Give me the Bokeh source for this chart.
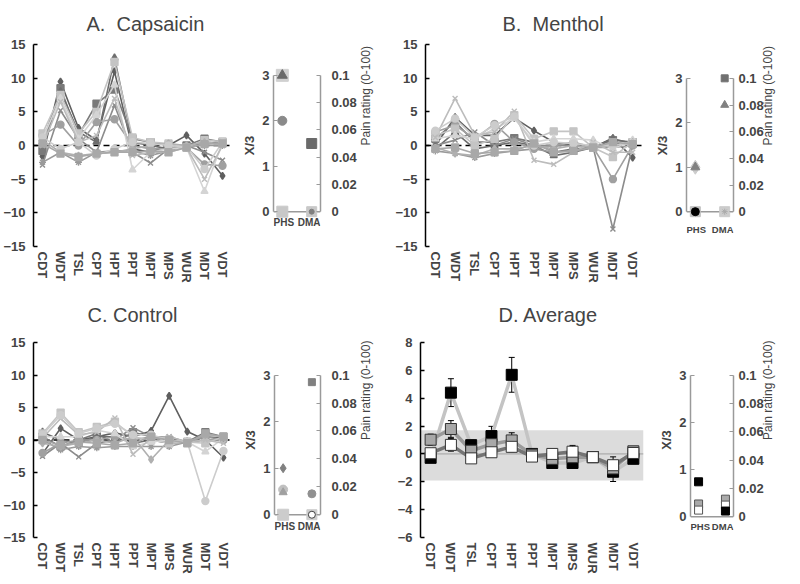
import math
from bokeh.plotting import figure
from bokeh.models import (Range1d, FactorRange, Span, BoxAnnotation, LinearAxis, Label,
                          FixedTicker, Whisker, TeeHead, ColumnDataSource, NumeralTickFormatter)
from bokeh.layouts import row, column
from bokeh.embed import file_html
from bokeh.resources import INLINE

FONT = "Liberation Sans"

# ---------------- data ----------------
tests = ["CDT", "WDT", "TSL", "CPT", "HPT", "PPT", "MPT", "MPS", "WUR", "MDT", "VDT"]
main_ticks = [-15, -10, -5, 0, 5, 10, 15]
avg_ticks = [-6, -4, -2, 0, 2, 4, 6, 8]
x3_ticks = [0, 1, 2, 3]
pain_ticks = [0, 0.02, 0.04, 0.06, 0.08, 0.1]
side_cats = ["PHS", "DMA"]

# individual z-score profiles (12 subjects per condition)
capsaicin = [
    [-1.6, 9.5, 2.6, 0.8, 11.0, -0.5, -1.0, 0.0, 1.5, -1.2, -4.5],
    [-0.8, 8.5, 1.5, 6.2, 8.3, 1.0, 0.5, 0.0, 0.0, 1.0, 0.5],
    [0.5, 8.0, 2.0, 0.5, 13.0, 0.5, 0.0, -0.5, -0.3, 0.5, 0.3],
    [-2.9, 5.2, 1.0, -1.0, 6.0, -1.0, -2.6, -0.5, 0.0, -1.0, -2.2],
    [-2.5, -1.0, -2.5, -1.0, -0.8, -0.8, -1.5, -0.8, 0.0, 0.0, 0.0],
    [1.5, 3.1, 0.0, 3.5, 3.9, 0.0, -0.5, -0.5, -0.3, -2.8, -3.0],
    [1.8, 7.5, 1.8, 5.0, 12.4, 1.2, 0.5, 0.3, -0.3, 0.8, 0.6],
    [1.0, 7.0, 1.0, 4.5, 9.0, -3.6, -1.0, -0.5, -0.3, -6.8, 0.5],
    [0.0, 6.5, 0.5, 1.5, 7.0, -1.5, -1.0, -1.0, -0.3, -5.0, 0.0],
    [0.8, -1.0, -1.5, -1.2, -1.0, -0.5, 0.0, 0.3, 0.0, 0.5, 0.2],
    [1.2, -0.5, 0.5, -1.5, -0.5, 0.5, 0.3, 0.0, -0.2, -3.5, 0.5],
    [0.3, -1.2, -1.7, -1.2, -1.0, -1.0, -0.8, -1.0, -0.3, 0.2, 0.3],
]
menthol = [
    [0.0, 4.2, 1.5, 1.5, 4.1, 2.2, 0.5, 0.0, -0.3, 1.1, -1.8],
    [1.0, 3.5, 0.5, 0.5, 1.1, 0.5, -1.0, -0.5, -0.3, 0.8, 0.5],
    [-0.5, 2.0, -0.5, 0.0, 0.5, 0.0, -1.5, -1.0, -0.3, 1.0, 0.3],
    [0.0, 0.8, 2.0, 0.0, 1.0, 0.0, 0.0, 0.0, -0.3, -12.4, 0.0],
    [-0.8, -1.2, -1.8, -1.2, -0.8, -0.5, -1.0, -0.8, -0.3, -0.3, 0.0],
    [2.0, 3.0, 1.0, 3.2, 0.5, -0.5, 0.0, 0.5, -0.3, -5.0, 0.0],
    [1.5, 2.5, 0.0, 1.0, 4.5, 1.0, 2.1, 2.1, -0.3, -1.7, 0.5],
    [1.0, 1.5, 1.0, 2.5, 4.0, 0.5, 1.0, 1.0, 0.8, -0.5, 0.8],
    [1.2, 7.0, 1.5, 2.0, 5.1, -2.2, -2.8, -1.0, 0.5, -1.0, -1.0],
    [-0.3, -1.2, -1.5, -0.5, -0.5, 0.0, -0.5, 0.0, -0.3, 0.0, 0.5],
    [2.2, 4.0, 1.2, 3.0, 4.3, 0.0, 0.5, 0.3, 0.0, 0.0, 0.3],
    [-0.5, -0.3, -1.2, -1.0, -0.8, 0.3, -1.0, -0.8, -0.3, 0.5, 0.2],
]
control = [
    [-2.1, 1.8, 0.0, 0.5, 1.1, 0.5, 1.4, 6.8, 1.3, 0.0, -2.7],
    [0.5, -1.0, 0.0, 1.0, -0.5, 1.2, 0.5, 0.0, -0.3, 1.2, 0.5],
    [1.2, 0.0, -0.5, 0.5, 0.5, -0.5, 0.0, -0.5, -0.3, 0.5, 0.3],
    [-2.5, -0.5, -2.6, -0.5, 0.0, 1.9, 0.5, 0.5, -0.3, 0.0, 0.0],
    [0.0, -1.5, -1.0, -1.2, -1.0, -1.0, -1.0, -1.0, -0.3, 0.5, 0.0],
    [-2.0, -0.5, 0.0, 0.0, 0.5, 0.0, 0.5, -0.5, -0.3, 0.0, 0.0],
    [1.0, 4.2, 1.2, 2.0, 2.8, 0.5, 0.0, -0.5, -0.3, -0.5, 0.5],
    [0.5, 0.5, 0.5, 1.5, 1.0, -1.0, -0.3, 0.0, -0.3, -1.8, 0.3],
    [0.3, 3.3, 0.8, 1.2, 3.4, -2.2, 0.3, 0.5, -0.3, 0.0, -0.5],
    [-0.5, -1.0, -0.5, 0.0, -0.5, 0.5, -3.0, 0.0, -0.3, 0.8, 0.5],
    [0.8, 3.8, 1.0, 1.8, 2.5, 0.8, 0.8, 0.0, -0.3, -9.4, -1.7],
    [0.0, -0.8, -0.3, -0.5, -0.8, -0.5, 0.5, 0.0, -0.5, 1.0, 0.5],
]

# group averages and errors
avg_capsaicin = [-0.28, 4.4, 0.63, 1.28, 5.68, 0.0, -0.65, -0.65, -0.23, -1.28, -0.35]
avg_menthol = [1.02, 1.79, 0.23, 0.7, 0.97, -0.05, -0.35, -0.23, -0.23, -1.04, 0.19]
avg_control = [0.05, 0.65, -0.32, 0.12, 0.51, -0.19, 0.0, 0.16, -0.23, -0.81, 0.07]
err_capsaicin = [0.3, 1.0, 0.35, 0.7, 1.25, 0.15, 0.2, 0.2, 0.1, 0.7, 0.35]
err_menthol = [0.4, 0.6, 0.3, 0.5, 0.55, 0.15, 0.3, 0.3, 0.1, 0.5, 0.3]
err_control = [0.3, 0.45, 0.3, 0.3, 0.35, 0.15, 0.3, 0.45, 0.1, 0.6, 0.3]
band_low, band_high = -1.9, 1.7

# side panels: PHS (X/3) and DMA (pain rating)
phs_capsaicin = [3, 3, 2, 0]
dma_capsaicin = [0.05, 0.0, 0.0]
phs_menthol = [1, 1, 0, 0]
dma_menthol = [0.1, 0.08, 0.0, 0.0]
phs_control = [1.0, 0.54, 0.48, 0.0]
dma_control = [0.095, 0.015, 0.0, 0.0]
phs_average = [0.74, 0.27, 0.14]
dma_average = [0.0124, 0.0082, 0.004]

# ---------------- styles ----------------
subject_styles = [
    ("diamond", "#5f5f5f"), ("square", "#7a7a7a"), ("triangle", "#6e6e6e"),
    ("x", "#8c8c8c"), ("asterisk", "#9a9a9a"), ("circle", "#a0a0a0"),
    ("square", "#c4c4c4"), ("triangle", "#d4d4d4"), ("x", "#bcbcbc"),
    ("diamond", "#b0b0b0"), ("circle", "#cccccc"), ("square", "#a8a8a8"),
]
# (marker, fill, line, size)
sty_phs_A = [("square", "#d0d0d0", "#d0d0d0", 12), ("triangle", "#6a6a6a", "#6a6a6a", 10),
             ("circle", "#8a8a8a", "#8a8a8a", 9), ("square", "#c8c8c8", "#c8c8c8", 11)]
sty_dma_A = [("square", "#6a6a6a", "#6a6a6a", 10), ("square", "#c8c8c8", "#c8c8c8", 10),
             ("circle", "#808080", "#808080", 5)]
sty_phs_B = [("diamond", "#cccccc", "#cccccc", 14), ("triangle", "#808080", "#808080", 9),
             ("square", "#c0c0c0", "#c0c0c0", 10), ("circle", "#000000", "#000000", 8)]
sty_dma_B = [("square", "#707070", "#707070", 7), ("triangle", "#808080", "#808080", 8),
             ("square", "#cccccc", "#cccccc", 10), ("asterisk", "#aaaaaa", "#aaaaaa", 6)]
sty_phs_C = [("diamond", "#808080", "#808080", 9), ("circle", "#c0c0c0", "#c0c0c0", 9),
             ("triangle", "#a0a0a0", "#a0a0a0", 8), ("square", "#cccccc", "#cccccc", 11)]
sty_dma_C = [("square", "#808080", "#808080", 7), ("circle", "#909090", "#909090", 8),
             ("square", "#cccccc", "#cccccc", 10), ("circle", "#ffffff", "#404040", 7)]
sty_phs_D = [("square", "black", "black", 8), ("square", "#aaaaaa", "#555555", 8),
             ("square", "white", "#555555", 8)]
sty_dma_D = [("square", "#aaaaaa", "#555555", 8), ("square", "white", "#555555", 8),
             ("square", "black", "black", 8)]


def make_main(title, width, height, bl, br, bt, bb, ylo, yhi, yticks, title_off, title_so):
    p = figure(width=width, height=height, x_range=FactorRange(factors=tests),
               y_range=Range1d(ylo, yhi), output_backend="svg", toolbar_location=None,
               min_border_left=bl, min_border_right=br, min_border_top=bt,
               min_border_bottom=bb, title=title)
    p.title.align = "left"
    p.title.offset = title_off
    p.title.text_font = FONT
    p.title.text_font_size = "20px"
    p.title.text_font_style = "normal"
    p.title.standoff = title_so
    p.outline_line_color = None
    p.xgrid.visible = False
    p.ygrid.visible = False
    xa = p.xaxis[0]
    xa.axis_line_color = None
    xa.major_tick_line_color = None
    xa.minor_tick_line_color = None
    xa.major_tick_out = 0
    xa.minor_tick_out = 0
    xa.major_label_orientation = "vertical"
    xa.major_label_text_font = FONT
    xa.major_label_text_font_style = "bold"
    xa.major_label_text_font_size = "13px"
    xa.major_label_standoff = 5
    ya = p.yaxis[0]
    ya.ticker = FixedTicker(ticks=yticks)
    ya.axis_line_width = 1.5
    ya.axis_line_color = "black"
    ya.major_tick_in = 4
    ya.major_tick_out = 0
    ya.minor_tick_out = 0
    ya.major_tick_line_width = 1.5
    ya.minor_tick_line_color = None
    ya.major_label_text_font = FONT
    ya.major_label_text_font_style = "bold"
    ya.major_label_text_font_size = "13px"
    ya.major_label_standoff = 8
    return p


def add_subjects(p, rows):
    p.add_layout(Span(location=0, dimension="width", line_color="black",
                      line_width=1.5, line_dash="6 4", level="underlay"))
    for vals, (mk, col) in zip(rows, subject_styles):
        src = ColumnDataSource(dict(x=tests, y=vals))
        p.line("x", "y", source=src, line_color=col, line_width=1.6)
        p.scatter("x", "y", source=src, marker=mk, size=7, fill_color=col,
                  line_color=col, line_width=1.4)


def make_side(width, height, bl, br, bt, bb, px_top3, px_zero, lab_px, lab_size,
              r_so, r_lab_so, phs, phs_sty, dma, dma_sty):
    # frame spans the same pixels as the neighbouring main chart; place 0..3 inside it
    top3 = x3_ticks[-1]
    ptop = pain_ticks[-1]
    frame_h = height - bt - bb
    unit = (px_zero - px_top3) / top3
    hi = top3 + (px_top3 - bt) / unit
    lo = -((bt + frame_h) - px_zero) / unit
    xr = Range1d(-0.3, len(side_cats) - 1 + 0.3)
    p = figure(width=width, height=height, x_range=xr,
               y_range=Range1d(lo, hi), output_backend="svg",
               toolbar_location=None, min_border_left=bl, min_border_right=br,
               min_border_top=bt, min_border_bottom=bb)
    p.extra_y_ranges = {"pain": Range1d(lo * ptop / top3, hi * ptop / top3)}
    p.outline_line_color = None
    p.xgrid.visible = False
    p.ygrid.visible = False
    p.xaxis.visible = False
    ya = p.yaxis[0]
    ya.ticker = FixedTicker(ticks=x3_ticks)
    ya.bounds = (0, top3)
    ra = LinearAxis(y_range_name="pain", ticker=FixedTicker(ticks=pain_ticks),
                    bounds=(0, ptop), formatter=NumeralTickFormatter(format="0.[00]"),
                    axis_label="Pain rating (0-100)")
    p.add_layout(ra, "right")
    for ax in (ya, ra):
        ax.axis_line_color = "#9a9a9a"
        ax.axis_line_width = 1.5
        ax.major_tick_in = 4
        ax.major_tick_out = 0
        ax.minor_tick_out = 0
        ax.major_tick_line_color = "#9a9a9a"
        ax.major_tick_line_width = 1.2
        ax.minor_tick_line_color = None
        ax.major_label_text_font = FONT
        ax.major_label_text_font_style = "bold"
        ax.major_label_text_font_size = "13px"
        ax.axis_label_text_font = FONT
    ya.major_label_standoff = 4
    ya.axis_label = "X/3"
    ya.axis_label_standoff = 2
    ya.axis_label_text_font_style = "bold"
    ya.axis_label_text_font_size = "13px"
    ra.major_label_standoff = r_so
    ra.axis_label_standoff = r_lab_so
    ra.axis_label_text_font_style = "normal"
    ra.axis_label_text_font_size = "12px"
    ra.axis_label_orientation = math.pi / 2
    p.add_layout(Span(location=0, dimension="width", line_color="#9a9a9a",
                      line_width=1.5, level="underlay"))
    # category names under the zero line, kept inside the frame edges
    y_lab = -lab_px / unit
    p.add_layout(Label(x=xr.start, y=y_lab, text=side_cats[0], text_align="left",
                       text_baseline="top", text_font=FONT, text_font_style="bold",
                       text_font_size=lab_size))
    p.add_layout(Label(x=xr.end, y=y_lab, text=side_cats[1], text_align="right",
                       text_baseline="top", text_font=FONT, text_font_style="bold",
                       text_font_size=lab_size))
    ix_phs = side_cats.index("PHS")
    ix_dma = side_cats.index("DMA")
    for v, (mk, fc, lc, sz) in zip(phs, phs_sty):
        p.scatter(x=[ix_phs], y=[v], marker=mk, size=sz, fill_color=fc, line_color=lc)
    for v, (mk, fc, lc, sz) in zip(dma, dma_sty):
        p.scatter(x=[ix_dma], y=[v], marker=mk, size=sz, fill_color=fc, line_color=lc,
                  y_range_name="pain")
    return p


# ---------------- top row ----------------
H1, T1, B1 = 285, 43, 39
pA = make_main("A.\u00a0 Capsaicin", 231, H1, 26, 0, T1, B1, -15, 15, main_ticks, 53, 20)
add_subjects(pA, capsaicin)
sA = make_side(161, H1, 42, 72, T1, B1, 74, 211, 5, "10px", 11, 6,
               phs_capsaicin, sty_phs_A, dma_capsaicin, sty_dma_A)

pB = make_main("B.\u00a0 Menthol", 252, H1, 26, 2, T1, B1, -15, 15, main_ticks, 77, 20)
add_subjects(pB, menthol)
sB = make_side(140, H1, 42, 49, T1, B1, 77, 211, 12, "9.5px", 5, 1,
               phs_menthol, sty_phs_B, dma_menthol, sty_dma_B)

# ---------------- bottom row ----------------
H2, T2, B2 = 294, 55, 42
pC = make_main("C. Control", 232, H2, 26, 0, T2, B2, -15, 15, main_ticks, 54, 33)
add_subjects(pC, control)
sC = make_side(160, H2, 42, 72, T2, B2, 88, 229, 6, "10px", 11, 6,
               phs_control, sty_phs_C, dma_control, sty_dma_C)

pD = make_main("D. Average", 253, H2, 28, 2, T2, B2, -6, 8, avg_ticks, 78, 33)
pD.add_layout(BoxAnnotation(bottom=band_low, top=band_high, fill_color="#dcdcdc",
                            fill_alpha=1.0, line_color=None, level="underlay"))
pD.add_layout(Span(location=0, dimension="width", line_color="#a0a0a0", line_width=1,
                   level="underlay"))
series = [
    (avg_capsaicin, err_capsaicin, "#c4c4c4", "black", "black"),
    (avg_menthol, err_menthol, "#9a9a9a", "#a8a8a8", "#333333"),
    (avg_control, err_control, "#747474", "white", "#333333"),
]
for vals, errs, lc, fc, mc in series:
    src = ColumnDataSource(dict(x=tests, upper=[v + e for v, e in zip(vals, errs)],
                                lower=[v - e for v, e in zip(vals, errs)]))
    pD.add_layout(Whisker(base="x", upper="upper", lower="lower", source=src,
                          line_color="black", line_width=1, level="underlay",
                          upper_head=TeeHead(size=6, line_color="black"),
                          lower_head=TeeHead(size=6, line_color="black")))
for vals, errs, lc, fc, mc in series:
    pD.line(tests, vals, line_color=lc, line_width=3.5)
for vals, errs, lc, fc, mc in series:
    pD.scatter(tests, vals, marker="square", size=11, fill_color=fc, line_color=mc)
sD = make_side(139, H2, 45, 46, T2, B2, 88, 231, 4, "9.5px", 5, 1,
               phs_average, sty_phs_D, dma_average, sty_dma_D)

layout = column(row(pA, sA, pB, sB), row(pC, sC, pD, sD))
open("out.html", "w").write(file_html(layout, INLINE))
